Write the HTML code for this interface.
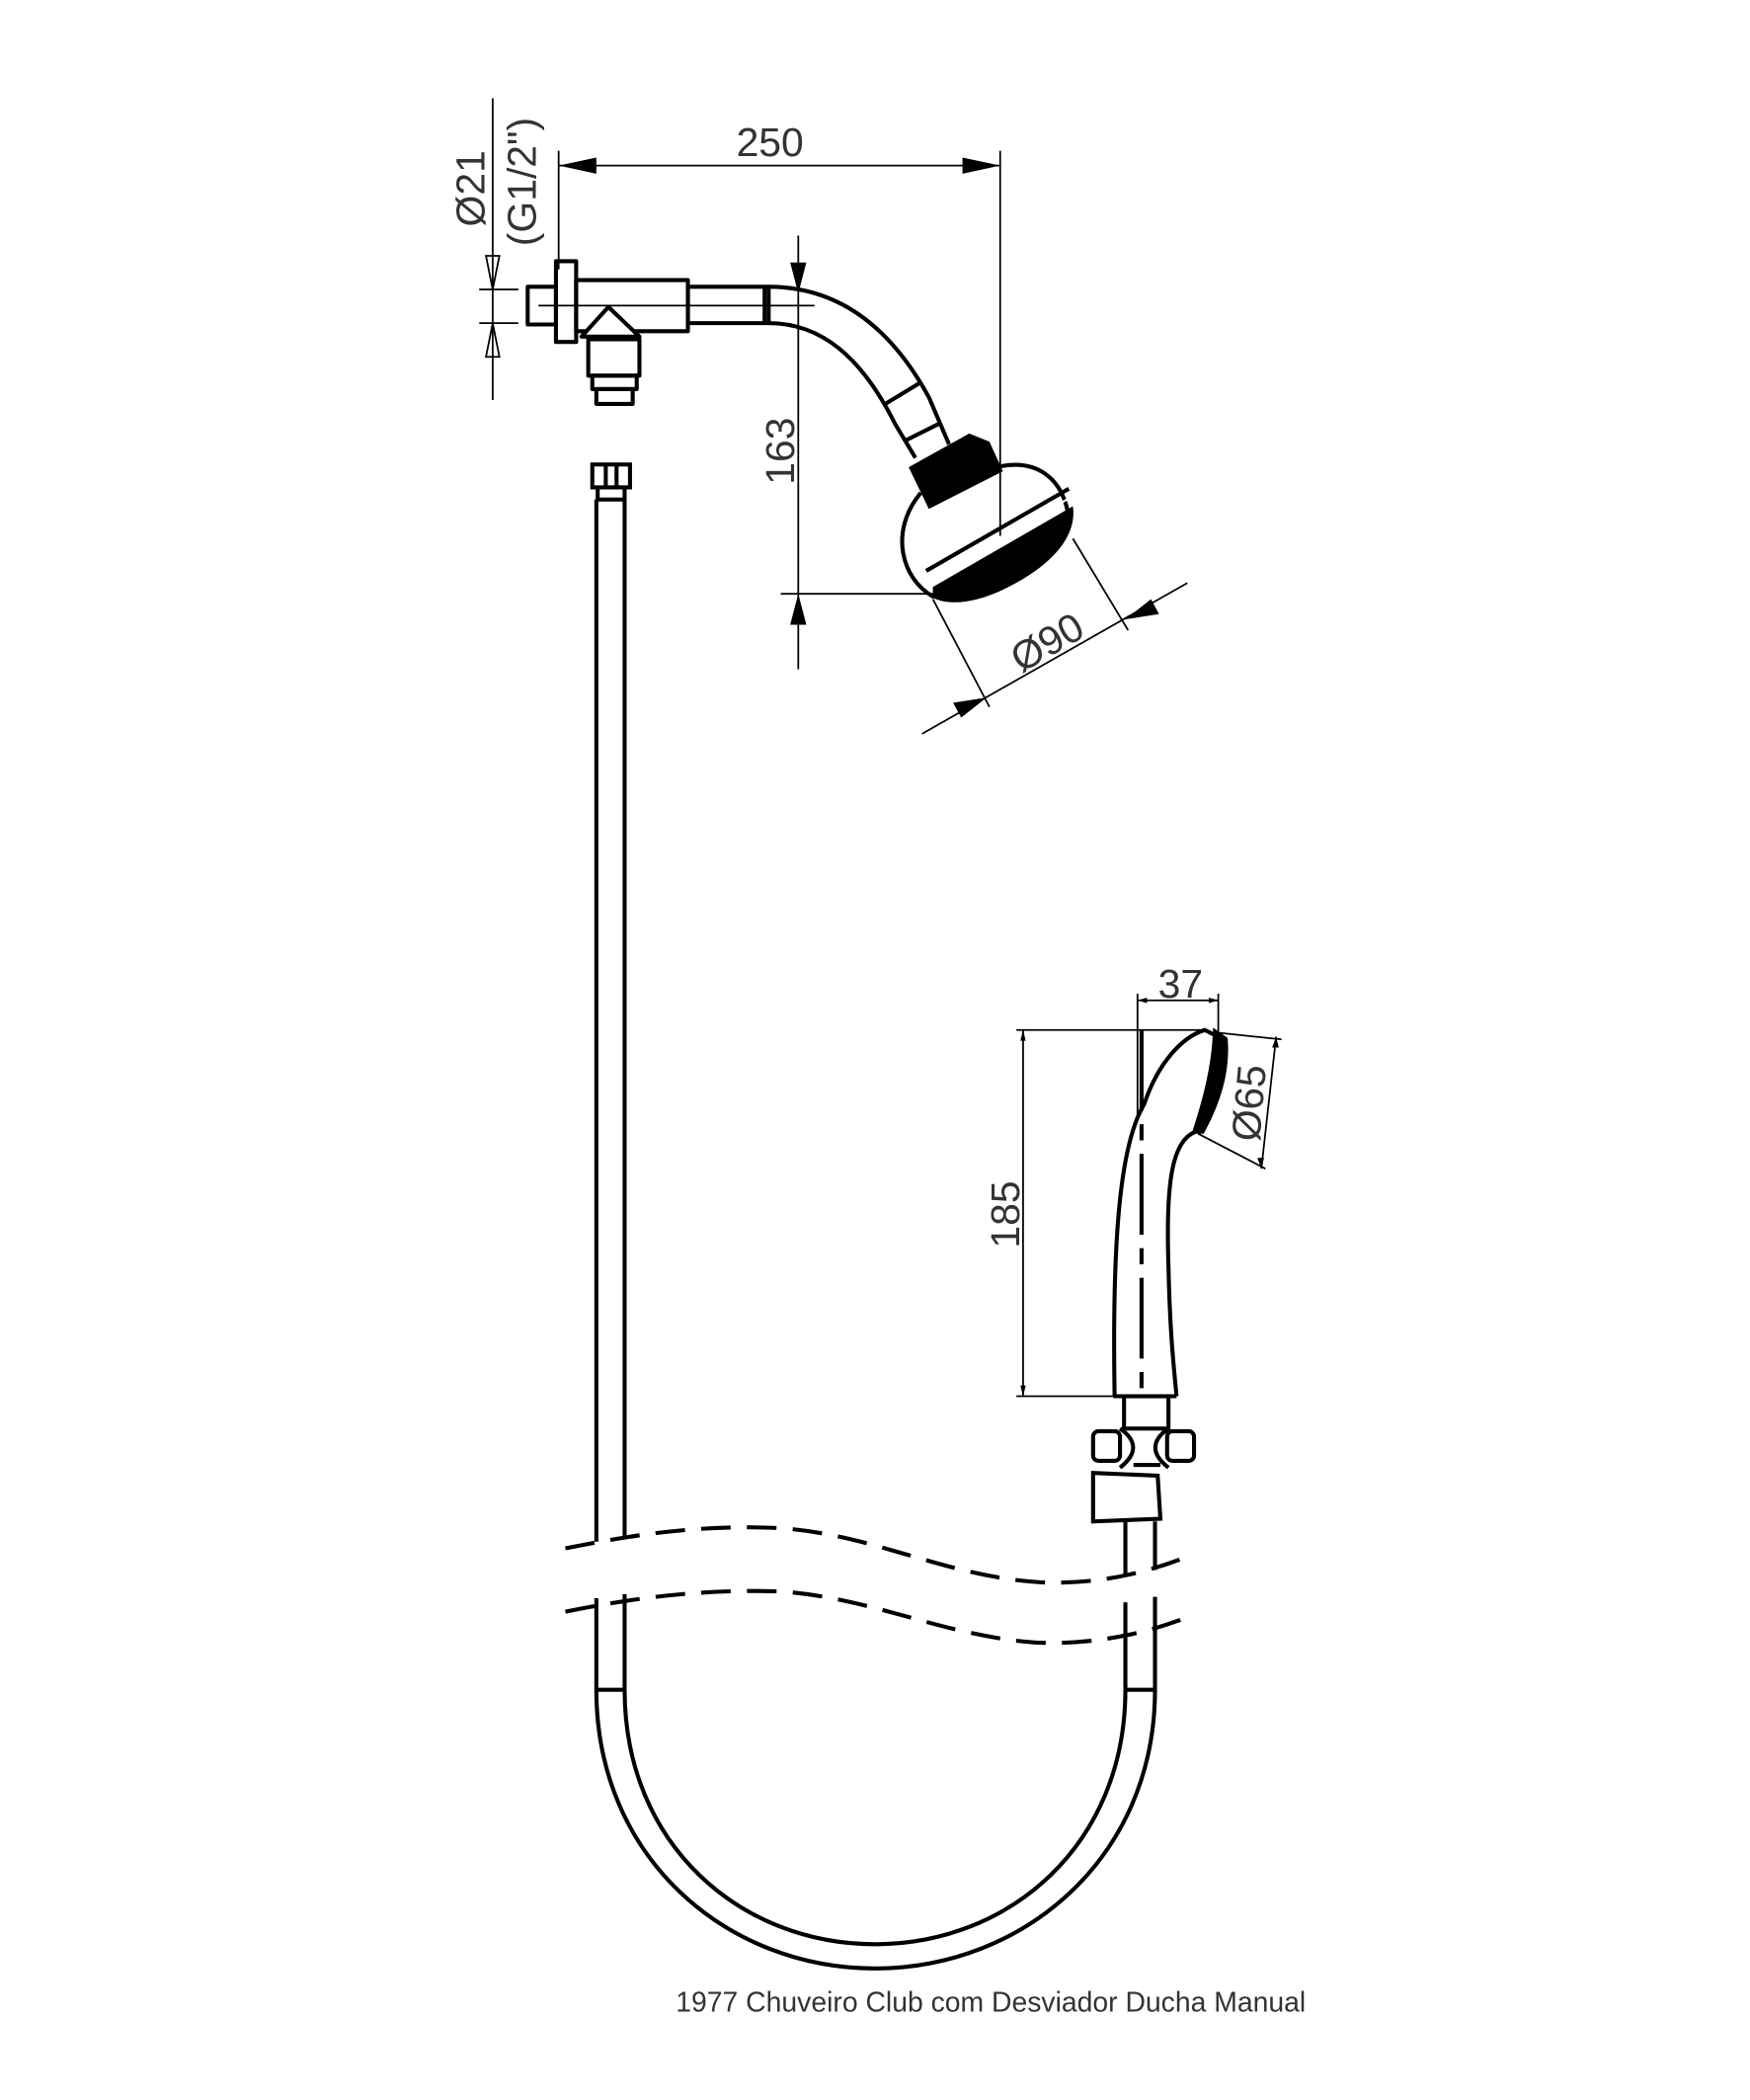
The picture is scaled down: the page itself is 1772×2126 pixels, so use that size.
<!DOCTYPE html>
<html><head><meta charset="utf-8"><style>
html,body{margin:0;padding:0;background:#fff;}
svg{display:block;}
text{font-family:"Liberation Sans",sans-serif;fill:#333;}
</style></head><body>
<svg width="1772" height="2126" viewBox="0 0 1300 1559.7" preserveAspectRatio="none" xmlns="http://www.w3.org/2000/svg">
<rect width="1300" height="1560" fill="#fff"/>
<g fill="none" stroke="#000" stroke-width="1.3">
  <line x1="415" y1="112" x2="415" y2="200"/>
  <line x1="743" y1="112" x2="743" y2="398"/>
  <line x1="415" y1="123" x2="743" y2="123"/>
  <line x1="366" y1="73" x2="366" y2="297"/>
  <line x1="356" y1="215" x2="385" y2="215"/>
  <line x1="356" y1="240" x2="385" y2="240"/>
  <polygon points="361,190 371,190 366,215"/>
  <polygon points="361,265 371,265 366,240"/>
  <line x1="593" y1="175" x2="593" y2="497"/>
  <line x1="580" y1="441" x2="700" y2="441"/>
  <line x1="685" y1="545" x2="882" y2="433"/>
  <line x1="693" y1="445" x2="735" y2="525"/>
  <line x1="797" y1="400" x2="838" y2="468"/>
  <line x1="845" y1="743" x2="905" y2="743"/>
  <line x1="845" y1="738" x2="845" y2="830"/>
  <line x1="905" y1="738" x2="905" y2="770"/>
  <line x1="760" y1="765" x2="760" y2="1037"/>
  <line x1="755" y1="765" x2="893" y2="765"/>
  <line x1="755" y1="1037" x2="828" y2="1037"/>
  <line x1="948" y1="770" x2="937" y2="868"/>
  <line x1="905" y1="767" x2="952" y2="772"/>
  <line x1="890" y1="842" x2="940" y2="868"/>
  <line x1="400" y1="227" x2="605" y2="227"/>
</g>
<g fill="#000">
  <polygon points="415,123 443,117 443,129"/>
  <polygon points="743,123 715,117 715,129"/>
  <polygon points="593,218 587,195 599,195"/>
  <polygon points="593,441 587,464 599,464"/>
  <polygon points="733,518 708,522 714,533"/>
  <polygon points="836,460 861,456 855,445"/>
  <polygon points="845,743 852,741 852,745"/>
  <polygon points="905,743 898,741 898,745"/>
  <polygon points="760,765 758,773 762,773"/>
  <polygon points="760,1037 758,1029 762,1029"/>
  <polygon points="948,770 945,778 950,778"/>
  <polygon points="937,868 934,860 939,860"/>
</g>
<g fill="none" stroke="#000" stroke-width="3" stroke-linejoin="round">
  <rect x="392" y="213" width="21" height="28"/>
  <rect x="413" y="194" width="15" height="60"/>
  <rect x="428" y="208" width="83" height="38"/>
  <rect x="511" y="213" width="60" height="27"/>
  <line x1="568" y1="213" x2="568" y2="240"/>
  <polygon points="452,228 432,250 475,250" fill="#fff"/>
  <rect x="437" y="252" width="38" height="27" fill="#fff"/>
  <rect x="440" y="279" width="33" height="10"/>
  <rect x="443" y="289" width="27" height="11"/>
  <path d="M571,213 C620,213 660,240 690,295 L705,330"/>
  <path d="M571,240 C610,240 640,265 665,315 L680,340"/>
  <line x1="656" y1="301" x2="684" y2="284"/>
  <line x1="673" y1="327" x2="699" y2="314"/>
  <path d="M684,366 C660,395 670,430 693,443 L794,385 C790,355 770,340 740,347"/>
</g>
<g fill="#000">
  <polygon points="675,347 720,322 735,328 745,350 690,378"/>
  <path d="M693,436 L797,376 C800,396 785,415 760,430 C735,445 710,452 693,444 Z"/>
</g>
<g stroke="#fff" stroke-width="1.5">
  <line x1="690" y1="430" x2="796" y2="369"/>
</g>
<g fill="none" stroke="#000" stroke-width="3">
  <line x1="688" y1="424" x2="794" y2="363"/>
  <rect x="440" y="345" width="28" height="17"/>
  <line x1="450" y1="345" x2="450" y2="362"/><line x1="458" y1="345" x2="458" y2="362"/>
  <rect x="444" y="362" width="20" height="9"/>
  <line x1="443" y1="371" x2="443" y2="1145"/>
  <line x1="464" y1="371" x2="464" y2="1142"/>
  <line x1="443" y1="1187" x2="443" y2="1255"/>
  <line x1="464" y1="1184" x2="464" y2="1255"/>
  <line x1="443" y1="1255" x2="464" y2="1255"/>
  <path d="M443,1255 C443,1380 540,1462 650,1462 C760,1462 858,1380 858,1255"/>
  <path d="M464,1255 C464,1370 550,1444 650,1444 C750,1444 836,1370 836,1255"/>
  <line x1="836" y1="1255" x2="858" y2="1255"/>
  <line x1="836" y1="1255" x2="836" y2="1190"/>
  <line x1="858" y1="1255" x2="858" y2="1186"/>
  <line x1="836" y1="1130" x2="836" y2="1170"/>
  <line x1="858" y1="1130" x2="858" y2="1166"/>
  <path stroke-dasharray="22,12" d="M420,1150 C470,1140 520,1132 580,1135 C650,1140 700,1170 770,1175 C820,1178 860,1165 885,1155"/>
  <path stroke-dasharray="22,12" d="M420,1197 C470,1187 520,1180 580,1182 C650,1187 700,1215 770,1220 C820,1222 860,1210 885,1200"/>
  <path d="M828,1037 C826,920 832,850 850,820 C860,790 878,770 895,765 L905,770"/>
  <path d="M890,840 C870,845 866,880 868,940 C869,990 872,1015 874,1037"/>
  <line x1="827" y1="1037" x2="874" y2="1037"/>
  <rect x="835" y="1037" width="33" height="24"/>
  <rect x="812" y="1063" width="20" height="22" rx="4"/>
  <rect x="867" y="1063" width="20" height="22" rx="4"/>
  <path d="M832,1061 C845,1070 845,1080 832,1090"/>
  <path d="M868,1061 C855,1070 855,1080 868,1090"/>
  <polygon points="812,1094 860,1096 862,1128 812,1130"/>
  <line x1="842" y1="1088" x2="862" y2="1088"/>
</g>
<line x1="848" y1="765" x2="848" y2="1037" stroke="#000" stroke-width="3" stroke-dasharray="60,10,12,10"/>
<path d="M903,767 L910,772 C912,795 905,818 893,840 L888,840 C896,815 902,792 903,767 Z" fill="#000" stroke="#000" stroke-width="4"/>
<g font-size="30">
  <text x="572" y="116" text-anchor="middle">250</text>
  <text transform="translate(360,140) rotate(-90)" text-anchor="middle">Ø21</text>
  <text transform="translate(398,135) rotate(-90)" text-anchor="middle">(G1/2")</text>
  <text transform="translate(590,335) rotate(-90)" text-anchor="middle">163</text>
  <text transform="translate(783,486) rotate(-30)" text-anchor="middle">Ø90</text>
  <text x="877" y="741" text-anchor="middle">37</text>
  <text transform="translate(757,902) rotate(-90)" text-anchor="middle">185</text>
  <text transform="translate(938,820) rotate(-85)" text-anchor="middle">Ø65</text>
</g>
<text x="736" y="1494" text-anchor="middle" font-size="21" textLength="468" lengthAdjust="spacingAndGlyphs">1977 Chuveiro Club com Desviador Ducha Manual</text>
</svg>
</body></html>
